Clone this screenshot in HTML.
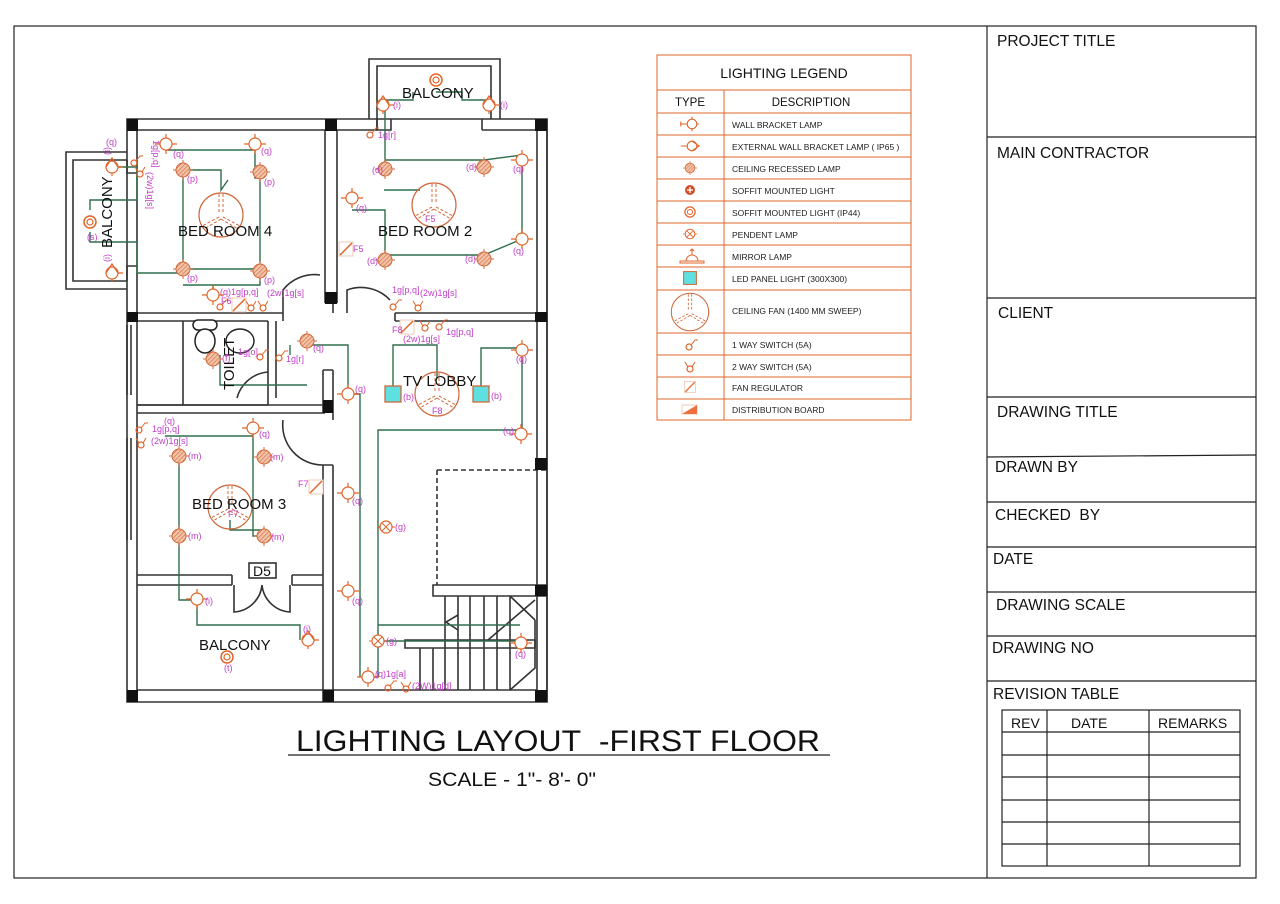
<!DOCTYPE html>
<html><head><meta charset="utf-8"><style>
html,body{margin:0;padding:0;background:#fff;width:1280px;height:904px;overflow:hidden}
svg{display:block;font-family:"Liberation Sans",sans-serif}
.w{fill:none;stroke:#333;stroke-width:1.6}
.g{fill:none;stroke:#2f6e4c;stroke-width:1.4}
.o{fill:none;stroke:#e0642a;stroke-width:1.2}
.m{fill:#c03cc8;font-size:9px}
.t{fill:#111}
.lg{fill:#222;font-size:8.5px}
</style></head><body>
<svg width="1280" height="904" viewBox="0 0 1280 904">
<defs>
<pattern id="h" width="3" height="3" patternUnits="userSpaceOnUse" patternTransform="rotate(45)"><rect width="3" height="3" fill="#f2c3a8"/><line x1="0" y1="0" x2="0" y2="3" stroke="#d0683a" stroke-width="1.2"/></pattern>
<g id="wb"><circle r="6" fill="#fff" stroke="#e0642a" stroke-width="1.2"/><path d="M0,-6V-10M0,6V10M6,0H11M-6,0H-11" stroke="#e0642a" stroke-width="1.2"/></g>
<g id="ext"><circle r="6" fill="#fff" stroke="#e0642a" stroke-width="1.2"/><path d="M-6,0L0,-9L6,0M6,0H11M0,6V9" stroke="#e0642a" fill="none" stroke-width="1.2"/></g>
<g id="rc"><circle r="7" fill="url(#h)" stroke="#d0683a" stroke-width="1"/><path d="M0,-7V-10M0,7V10M-7,0H-10M7,0H10" stroke="#d0683a"/></g>
<g id="sf"><circle r="6" fill="#fff" stroke="#e0642a" stroke-width="1.5"/><circle r="3" fill="none" stroke="#e0642a" stroke-width="1.2"/></g>
<g id="pd"><circle r="6" fill="#fff" stroke="#e0642a" stroke-width="1.2"/><path d="M-4,-4L4,4M4,-4L-4,4M-6,0H-9M6,0H9" stroke="#e0642a"/></g>
<g id="fan"><circle r="22" fill="none" stroke="#d0683a" stroke-width="1.2"/><path d="M-2,-21V-3M2,-21V-3M-2,2L-19,11M0,4L-17,14M2,2L19,11M0,4L17,14" stroke="#d0683a" stroke-dasharray="3,2"/></g>
<g id="led"><rect x="-8" y="-8" width="16" height="16" fill="#5fe0e0" stroke="#d0683a" stroke-width="1.3"/></g>
<g id="s1"><circle cx="-2" cy="3" r="3" fill="none" stroke="#e0642a" stroke-width="1.2"/><path d="M0,1L4,-4H7" stroke="#e0642a" fill="none"/></g>
<g id="s2"><circle cx="0" cy="4" r="3" fill="none" stroke="#e0642a" stroke-width="1.2"/><path d="M-2,2L-5,-3M2,2L5,-3" stroke="#e0642a" fill="none"/></g>
<g id="reg"><rect x="-7" y="-7" width="14" height="14" fill="#fff" stroke="#f0c8b0"/><path d="M-6,6L6,-6" stroke="#e0642a" stroke-width="1.5"/></g>
</defs>

<!-- frame -->
<rect x="14" y="26" width="1242" height="852" fill="none" stroke="#222" stroke-width="1.2"/>
<line x1="987" y1="26" x2="987" y2="878" stroke="#222" stroke-width="1.2"/>
<g stroke="#222" stroke-width="1.2">
<line x1="987" y1="137" x2="1256" y2="137"/><line x1="987" y1="298" x2="1256" y2="298"/>
<line x1="987" y1="397" x2="1256" y2="397"/><line x1="987" y1="457" x2="1256" y2="455"/>
<line x1="987" y1="502" x2="1256" y2="502"/><line x1="987" y1="547" x2="1256" y2="547"/>
<line x1="987" y1="592" x2="1256" y2="592"/><line x1="987" y1="636" x2="1256" y2="636"/>
<line x1="987" y1="681" x2="1256" y2="681"/>
</g>
<g class="t" font-size="15.5">
<text x="997" y="46">PROJECT TITLE</text><text x="997" y="158">MAIN CONTRACTOR</text>
<text x="998" y="318">CLIENT</text><text x="997" y="417">DRAWING TITLE</text>
<text x="995" y="472">DRAWN BY</text><text x="995" y="520">CHECKED&#160; BY</text>
<text x="993" y="564">DATE</text><text x="996" y="610">DRAWING SCALE</text>
<text x="992" y="653">DRAWING NO</text><text x="993" y="699">REVISION TABLE</text>
</g>
<g stroke="#222" stroke-width="1.2" fill="none">
<rect x="1002" y="710" width="238" height="156"/>
<line x1="1047" y1="710" x2="1047" y2="866"/><line x1="1149" y1="710" x2="1149" y2="866"/>
<line x1="1002" y1="732" x2="1240" y2="732"/><line x1="1002" y1="755" x2="1240" y2="755"/>
<line x1="1002" y1="777" x2="1240" y2="777"/><line x1="1002" y1="800" x2="1240" y2="800"/>
<line x1="1002" y1="822" x2="1240" y2="822"/><line x1="1002" y1="844" x2="1240" y2="844"/>
</g>
<g class="t" font-size="14"><text x="1011" y="728">REV</text><text x="1071" y="728">DATE</text><text x="1158" y="728">REMARKS</text></g>

<!-- legend -->
<g stroke="#e0642a" stroke-width="1" fill="none">
<rect x="657" y="55" width="254" height="365"/>
<line x1="657" y1="90" x2="911" y2="90"/><line x1="657" y1="113" x2="911" y2="113"/>
<line x1="657" y1="135" x2="911" y2="135"/><line x1="657" y1="157" x2="911" y2="157"/>
<line x1="657" y1="179" x2="911" y2="179"/><line x1="657" y1="201" x2="911" y2="201"/>
<line x1="657" y1="223" x2="911" y2="223"/><line x1="657" y1="245" x2="911" y2="245"/>
<line x1="657" y1="267" x2="911" y2="267"/><line x1="657" y1="290" x2="911" y2="290"/>
<line x1="657" y1="333" x2="911" y2="333"/><line x1="657" y1="355" x2="911" y2="355"/>
<line x1="657" y1="377" x2="911" y2="377"/><line x1="657" y1="399" x2="911" y2="399"/>
<line x1="724" y1="90" x2="724" y2="420"/>
</g>
<text x="784" y="78" text-anchor="middle" font-size="14" class="t">LIGHTING LEGEND</text>
<text x="690" y="106" text-anchor="middle" font-size="11.5" class="t">TYPE</text>
<text x="811" y="106" text-anchor="middle" font-size="11.5" class="t">DESCRIPTION</text>
<g class="lg">
<text x="732" y="128">WALL BRACKET LAMP</text><text x="732" y="150">EXTERNAL WALL BRACKET LAMP ( IP65 )</text>
<text x="732" y="172">CEILING RECESSED LAMP</text><text x="732" y="194">SOFFIT MOUNTED LIGHT</text>
<text x="732" y="216">SOFFIT MOUNTED LIGHT (IP44)</text><text x="732" y="238">PENDENT LAMP</text>
<text x="732" y="260">MIRROR LAMP</text><text x="732" y="282">LED PANEL LIGHT (300X300)</text>
<text x="732" y="314">CEILING FAN (1400 MM SWEEP)</text><text x="732" y="348">1 WAY SWITCH (5A)</text>
<text x="732" y="370">2 WAY SWITCH (5A)</text><text x="732" y="391">FAN REGULATOR</text>
<text x="732" y="413">DISTRIBUTION BOARD</text>
</g>
<g>
<g transform="translate(692,124) scale(0.8)"><circle r="6" fill="#fff" stroke="#e0642a" stroke-width="1.4"/><path d="M-6,0H-14M-14,-3V3M0,-6V-9M0,6V9M6,0H9" stroke="#e0642a" stroke-width="1.4"/></g>
<g transform="translate(692,146) scale(0.8)"><circle r="6" fill="#fff" stroke="#e0642a" stroke-width="1.4"/><path d="M-6,0H-14M0,-6L9,0L0,6" stroke="#e0642a" fill="none" stroke-width="1.4"/></g>
<use href="#rc" transform="translate(690,168) scale(0.7)"/>
<g transform="translate(690,190)"><circle r="5" fill="#d0502a"/><path d="M-3,0H3M0,-3V3" stroke="#fff" stroke-width="1.3"/></g>
<use href="#sf" transform="translate(690,212) scale(0.85)"/>
<use href="#pd" transform="translate(690,234) scale(0.8)"/>
<g transform="translate(692,256)" stroke="#e0642a" fill="none"><path d="M-12,5H12V7H-12Z M-6,5A6,6 0 0 1 6,5 M0,-1V-7 M-2,-5L0,-7L2,-5"/></g>
<use href="#led" transform="translate(690,278) scale(0.8)"/>
<use href="#fan" transform="translate(690,312) scale(0.85)"/>
<use href="#s1" transform="translate(691,344)"/>
<use href="#s2" transform="translate(690,365)"/>
<use href="#reg" transform="translate(690,387) scale(0.8)"/>
<path d="M682,405H697V414H682Z" fill="#fff" stroke="#f0c8b0"/><path d="M682,414L697,405V414Z" fill="#ee7040"/>
</g>

<!-- titles -->
<text x="296" y="751" font-size="30" class="t" textLength="524" lengthAdjust="spacingAndGlyphs">LIGHTING LAYOUT&#160; -FIRST FLOOR</text>
<line x1="288" y1="755" x2="830" y2="755" stroke="#222" stroke-width="1.2"/>
<text x="428" y="786" font-size="19" class="t" textLength="168" lengthAdjust="spacingAndGlyphs">SCALE - 1"- 8'- 0"</text>

<!-- walls -->
<g class="w">
<path d="M127,119H547V702H127Z"/>
<path d="M137,130H325M337,130H377M482,130H537V313"/>
<path d="M137,130V313M137,321V702M137,690H537M537,321V690M547,119V702"/>
<path d="M369,119V59H500V119M377,119V66H491V119M377,130V119M482,130V119"/>
<path d="M377,119V130H391V119"/>
<path d="M127,152H66V289H127M127,160H73V281H127"/>
<path d="M127,160V173H137M127,281V266H137"/>
<path d="M325,130V303M337,130V303M325,303H337"/>
<path d="M137,313H283M137,321H268M333,313V303"/>
<path d="M395,313H537M395,321H537M395,313V321M283,313V321"/>
<path d="M268,321V405M276,321V398M183,321V405M137,405H268"/>
<path d="M137,413H325M137,405H323"/>
<path d="M323,370V413M333,370V420M323,370H333"/>
<path d="M323,465V702M333,465V702M323,465H333"/>
<path d="M137,575H232M137,585H232M292,575H323M292,585H323M232,575V585M292,575V585"/>
<path d="M127,438V540M131,438V540"/>
<path d="M127,325V395M131,325V395"/>
<path d="M437,470H547" stroke-dasharray="5,3"/>
<path d="M437,470V585" stroke-dasharray="5,3"/>
<path d="M433,585H547V596H433Z"/>
<path d="M405,640H535V648H405Z"/>
<path d="M445,596V690M458,596V690M470,596V690M484,596V690M497,596V690M510,596V690M420,648V690M433,648V690"/>
<path d="M510,596L535,620M535,620V668L510,690M488,640L535,600"/>
<path d="M458,615L446,622L458,630"/>
<path d="M283,313V290A40,40 0 0 1 320,275"/>
<path d="M347,313V290A40,40 0 0 1 390,300"/>
<path d="M237,398A35,35 0 0 1 268,372"/>
<path d="M283,420A40,40 0 0 0 323,465"/>
<path d="M234,585V612A30,30 0 0 0 262,585M290,585V612A30,30 0 0 1 262,585"/>
<rect x="249" y="563" width="27" height="15" fill="#fff"/>
</g>
<g fill="#111">
<rect x="127" y="119" width="11" height="12"/><rect x="325" y="119" width="12" height="12"/><rect x="535" y="119" width="12" height="12"/>
<rect x="127" y="312" width="11" height="10"/><rect x="325" y="292" width="12" height="12"/><rect x="535" y="312" width="12" height="10"/>
<rect x="323" y="400" width="10" height="13"/><rect x="535" y="458" width="12" height="12"/><rect x="535" y="585" width="12" height="11"/>
<rect x="127" y="690" width="11" height="12"/><rect x="323" y="690" width="11" height="12"/><rect x="535" y="690" width="12" height="12"/>
</g>
<text x="262" y="576" font-size="14" text-anchor="middle" class="t">D5</text>
<g stroke="#222" fill="#fff" stroke-width="1.5"><rect x="193" y="320" width="24" height="10" rx="5"/><ellipse cx="205" cy="341" rx="10" ry="12"/></g>
<ellipse cx="240" cy="341" rx="14" ry="12" fill="none" stroke="#222" stroke-width="1.4"/>

<!-- wiring -->
<g class="g">
<path d="M166,144V150H255V178H260M183,170H221V190L228,180M260,172V263M183,170V269M183,269H260M213,290V285H183M260,271V285H213"/>
<path d="M112,167H137V200H90V210M90,232V242H137V273H183"/>
<path d="M385,169V150H385V140V100H413V92M436,92H462V100H489"/>
<path d="M385,160H484L522,155V239L484,255H385V240V210H352"/>
<path d="M384,190H420"/>
<path d="M393,386V345H437V378M481,386V348H522M522,350V430H378V677H368M348,394H360V677"/>
<path d="M307,341V345H348V394M290,355V345M220,355V385H307"/>
<path d="M253,428V436H165M253,436V536H264M179,456V600H197M197,605V625H300V640"/>
<path d="M230,520V530H264"/>
<path d="M386,527H378M378,641H520M378,625H520"/>
</g>

<!-- symbols -->
<use href="#wb" x="166" y="144"/><use href="#wb" x="255" y="144"/><use href="#wb" x="213" y="295"/>
<use href="#rc" x="183" y="170"/><use href="#rc" x="260" y="172"/><use href="#rc" x="183" y="269"/><use href="#rc" x="260" y="271"/>
<use href="#fan" x="221" y="215"/>
<use href="#ext" x="112" y="167"/><use href="#ext" x="112" y="273"/><use href="#sf" x="90" y="222"/>
<use href="#rc" x="385" y="169"/><use href="#rc" x="484" y="167"/><use href="#rc" x="385" y="260"/><use href="#rc" x="484" y="259"/>
<use href="#wb" x="352" y="198"/><use href="#wb" x="522" y="160"/><use href="#wb" x="522" y="239"/>
<use href="#fan" x="434" y="205"/><use href="#reg" x="346" y="249"/>
<use href="#sf" x="436" y="80"/><use href="#ext" x="383" y="105"/><use href="#ext" x="489" y="105"/>
<use href="#led" x="393" y="394"/><use href="#led" x="481" y="394"/><use href="#fan" x="437" y="394"/>
<use href="#wb" x="348" y="394"/><use href="#wb" x="522" y="350"/><use href="#wb" x="521" y="434"/>
<use href="#wb" x="348" y="493"/><use href="#wb" x="348" y="591"/><use href="#pd" x="386" y="527"/><use href="#pd" x="378" y="641"/>
<use href="#wb" x="521" y="643"/><use href="#wb" x="368" y="677"/>
<use href="#rc" x="307" y="341"/><use href="#rc" x="213" y="359"/>
<use href="#wb" x="253" y="428"/><use href="#rc" x="179" y="456"/><use href="#rc" x="264" y="457"/><use href="#rc" x="179" y="536"/><use href="#rc" x="264" y="536"/>
<use href="#fan" x="230" y="507"/><use href="#wb" x="197" y="599"/><use href="#ext" x="308" y="640"/><use href="#sf" x="227" y="657"/>
<use href="#reg" x="239" y="305"/><use href="#reg" x="407" y="327"/><use href="#reg" x="316" y="487"/>
<use href="#s1" x="222" y="304"/><use href="#s2" x="251" y="304"/><use href="#s2" x="263" y="304"/>
<use href="#s1" x="395" y="304"/><use href="#s2" x="418" y="304"/>
<use href="#s2" x="425" y="324"/><use href="#s1" x="441" y="324"/>
<use href="#s1" x="141" y="427"/><use href="#s2" x="141" y="441"/>
<use href="#s1" x="136" y="160"/><use href="#s2" x="140" y="170"/>
<use href="#s1" x="262" y="354"/><use href="#s1" x="281" y="355"/>
<use href="#s1" x="390" y="685"/><use href="#s2" x="406" y="685"/>
<use href="#s1" x="372" y="132"/>

<!-- room labels -->
<g class="t" font-size="15">
<text x="178" y="236">BED ROOM 4</text><text x="378" y="236">BED ROOM 2</text>
<text x="402" y="98">BALCONY</text><text x="403" y="386">TV LOBBY</text>
<text x="192" y="509">BED ROOM 3</text><text x="199" y="650">BALCONY</text>
<text transform="translate(112,248) rotate(-90)">BALCONY</text>
<text transform="translate(234,390) rotate(-90)">TOILET</text>
</g>

<!-- magenta labels -->
<g class="m">
<text x="106" y="145">(q)</text><text x="173" y="157">(q)</text><text x="261" y="154">(q)</text>
<text x="187" y="182">(p)</text><text x="264" y="185">(p)</text><text x="187" y="281">(p)</text><text x="264" y="283">(p)</text>
<text x="87" y="240">(s)</text><text x="220" y="295">(q)1g[p,q]</text><text x="267" y="296">(2w)1g[s]</text><text x="221" y="304">F6</text>
<text transform="translate(153,140) rotate(90)">1g[p,q]</text><text transform="translate(147,172) rotate(90)">(2w)1g[s]</text>
<text transform="translate(110,155) rotate(-90)">(i)</text><text transform="translate(110,262) rotate(-90)">(i)</text>
<text x="372" y="173">(d)</text><text x="466" y="170">(d)</text><text x="367" y="264">(d)</text><text x="465" y="262">(d)</text>
<text x="356" y="211">(q)</text><text x="513" y="172">(q)</text><text x="513" y="254">(q)</text>
<text x="425" y="222">F5</text><text x="353" y="252">F5</text>
<text x="393" y="108">(i)</text><text x="500" y="108">(i)</text><text x="378" y="138">1g[r]</text>
<text x="392" y="293">1g[p,q]</text><text x="420" y="296">(2w)1g[s]</text>
<text x="392" y="333">F8</text><text x="403" y="342">(2w)1g[s]</text><text x="446" y="335">1g[p,q]</text>
<text x="403" y="400">(b)</text><text x="491" y="399">(b)</text><text x="432" y="414">F8</text>
<text x="516" y="362">(q)</text><text x="503" y="434">(q)</text><text x="355" y="392">(q)</text>
<text x="313" y="351">(q)</text><text x="238" y="355">1g[o]</text><text x="286" y="362">1g[r]</text><text x="222" y="361">(f)</text>
<text x="164" y="424">(q)</text><text x="152" y="432">1g[p,q]</text><text x="151" y="444">(2w)1g[s]</text><text x="259" y="437">(q)</text>
<text x="188" y="459">(m)</text><text x="270" y="460">(m)</text><text x="188" y="539">(m)</text><text x="271" y="540">(m)</text>
<text x="228" y="517">F7</text><text x="298" y="487">F7</text>
<text x="352" y="504">(q)</text><text x="352" y="604">(q)</text><text x="395" y="530">(g)</text><text x="386" y="644">(g)</text>
<text x="205" y="604">(i)</text><text x="303" y="632">(i)</text><text x="224" y="671">(t)</text>
<text x="375" y="677">(q)1g[a]</text><text x="412" y="689">(2W)1g[d]</text><text x="515" y="657">(q)</text>
</g>
</svg>
</body></html>
